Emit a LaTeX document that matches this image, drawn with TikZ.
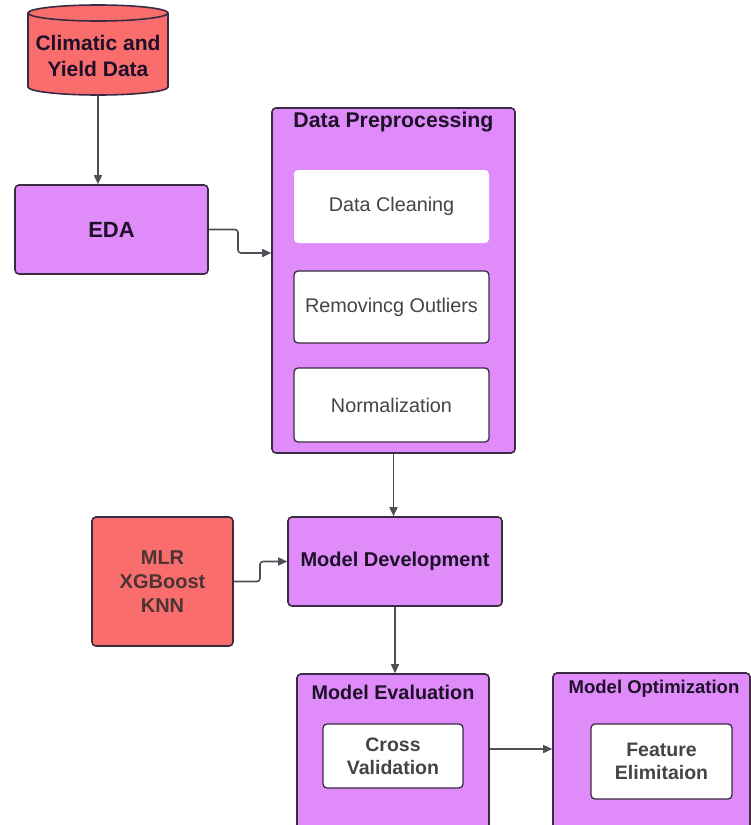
\documentclass[tikz,border=0pt]{standalone}
\usepackage{fontspec}
\setmainfont{Liberation Sans}
\usetikzlibrary{arrows.meta}
\definecolor{violetfill}{HTML}{DF8BF9}
\definecolor{redfill}{HTML}{F96D6D}
\definecolor{edge}{HTML}{3A2A42}
\definecolor{arrowgray}{HTML}{4F4F55}
\definecolor{titletext}{HTML}{1E1028}
\definecolor{innertext}{HTML}{444448}
\definecolor{redtext}{HTML}{4A3434}
\tikzset{
  vbox/.style={draw=edge, fill=violetfill, line width=1.6pt, rounded corners=4pt, inner sep=0pt,
    font=\fontsize{20}{23}\selectfont\bfseries, text=titletext, align=center},
  rbox/.style={draw=edge, fill=redfill, line width=1.6pt, rounded corners=4pt, inner sep=0pt,
    font=\fontsize{20}{24}\selectfont\bfseries, text=redtext, align=center},
  wbox/.style={draw=edge, fill=white, line width=1.3pt, rounded corners=4pt, inner sep=0pt,
    font=\fontsize{19.8}{23}\selectfont, text=innertext, align=center},
  wboxb/.style={wbox, font=\fontsize{19.5}{23}\selectfont\bfseries},
  title/.style={font=\fontsize{19.8}{23}\selectfont\bfseries, text=titletext, inner sep=0pt},
  arr/.style={draw=arrowgray, line width=1.6pt, -{Triangle[length=9pt,width=8pt]}, rounded corners=3pt},
}
\begin{document}
\begin{tikzpicture}[x=1pt,y=-1pt]
\useasboundingbox (0,0) rectangle (751,825);
\clip (0,0) rectangle (751,825);
\fill[white] (0,0) rectangle (751,825);

% cylinder
\path[fill=redfill, draw=edge, line width=1.6pt]
  (28,13) -- (28,87) arc[start angle=180, end angle=0, x radius=70, y radius=8]
  -- (168,13) arc[start angle=0, end angle=-180, x radius=70, y radius=8] -- cycle;
\draw[edge, line width=1.6pt] (28,13) arc[start angle=180, end angle=0, x radius=70, y radius=8];
\node[minimum width=140pt, minimum height=90pt, inner sep=0pt] (data) at (98,50) {};
\node[inner sep=0pt, align=center, font=\fontsize{21}{26}\selectfont\bfseries, text=titletext]
  (datalabel) at (98,56) {Climatic and\\Yield Data};

% EDA
\node[vbox, minimum width=193pt, minimum height=89pt, font=\fontsize{22}{26}\selectfont\bfseries] (eda) at (111.5,229.5) {EDA};

% Data preprocessing
\node[vbox, minimum width=243pt, minimum height=345pt] (pre) at (393.5,280.5) {};
\node[title, font=\fontsize{21.3}{24}\selectfont\bfseries] (pretitle) at (393.5,122) {Data Preprocessing};
\node[wbox, draw=none, minimum width=195pt, minimum height=73pt] (clean) at (391.5,206.5) {Data Cleaning};
\node[wbox, minimum width=195pt, minimum height=72pt] (outl) at (391.5,307) {Removincg Outliers};
\node[wbox, minimum width=195pt, minimum height=74pt] (norm) at (391.5,405) {Normalization};

% Model development
\node[vbox, minimum width=214pt, minimum height=89pt] (dev) at (395,561.5) {Model Development};
\node[rbox, minimum width=141pt, minimum height=129pt] (mlr) at (162.5,581.5) {MLR\\XGBoost\\KNN};

% Model evaluation
\node[vbox, minimum width=192pt, minimum height=166pt] (eval) at (393,757) {};
\node[title] (evaltitle) at (393,692) {Model Evaluation};
\node[wboxb, minimum width=140pt, minimum height=64pt] (cross) at (393,756) {Cross\\Validation};

% Model optimization
\node[vbox, minimum width=197pt, minimum height=167pt] (opt) at (651.5,756.5) {};
\node[title, font=\fontsize{18.5}{22}\selectfont\bfseries] (opttitle) at (654,689) {Model Optimization};
\node[wboxb, minimum width=141pt, minimum height=75pt] (feat) at (661.5,761.5) {Feature\\Elimitaion};

% connectors
\coordinate (j1) at (238,253);
\coordinate (j2) at (260,561.5);
\coordinate (j3) at (520,749);
\draw[arr] (data.south) -- (data.south |- eda.north);
\draw[arr] (eda.east) -| (j1) -- (j1 -| pre.west);
\draw[arr] (pre.south) -- (pre.south |- dev.north);
\draw[arr] (mlr.east) -| (j2) -- (j2 -| dev.west);
\draw[arr] (dev.south) -- (dev.south |- eval.north);
\draw[arr] (j3 -| eval.east) -- (j3 -| opt.west);
\end{tikzpicture}
\end{document}
